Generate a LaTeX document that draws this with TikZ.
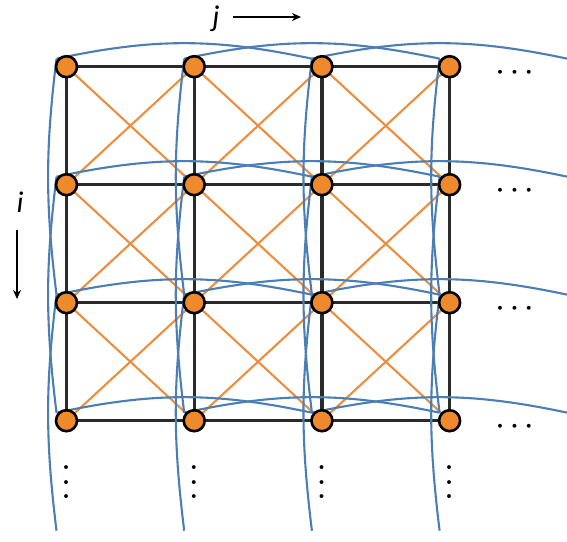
\documentclass[tikz,border=0pt]{standalone}
\usepackage{fontspec}
\setmainfont{Carlito}
\usetikzlibrary{arrows.meta}
\definecolor{nodeorange}{HTML}{EF8A2C}
\definecolor{lineorange}{HTML}{EE8D3E}
\definecolor{skipblue}{HTML}{4A7EB4}
\definecolor{gridblack}{HTML}{2A2A2A}
\pgfdeclarelayer{bg}
\pgfdeclarelayer{mid}
\pgfsetlayers{bg,mid,main}
\begin{document}
\begin{tikzpicture}[x=1pt,y=1pt,
  vertex/.style={circle, draw=black, line width=2.6pt, fill=nodeorange, minimum size=21pt, inner sep=0pt},
  gridline/.style={draw=gridblack, line width=3.4pt},
  diagline/.style={draw=lineorange, line width=2.1pt},
  skipline/.style={draw=skipblue, line width=2.1pt},
  ellip/.style={font=\boldmath\fontsize{50}{50}\selectfont, inner sep=0pt},
  axislabel/.style={font=\itshape\fontsize{30}{30}\selectfont, anchor=base, inner sep=0pt},
  axisarrow/.style={draw=black, line width=1.6pt, -{Stealth[length=9pt,width=8pt]}}
  ]
\useasboundingbox (0,0) rectangle (567,541);
% nodes
\foreach \r in {0,...,3}{
  \foreach \c in {0,...,3}{
    \node[vertex] (n-\r-\c) at ({66.5+127.7*\c},{474.3-118*\r}) {};
    \coordinate (q-\r-\c) at ([shift={(-10,8)}]n-\r-\c.center);
  }
}
% virtual skip anchors outside the picture
\foreach \r in {0,...,3}{
  \coordinate (q-\r-4) at ({66.5+127.7*4-10},{474.3-118*\r+8});
}
\foreach \c in {0,...,3}{
  \coordinate (q-4-\c) at ({66.5+127.7*\c-10},{474.3-118*4+8});
}
\begin{pgfonlayer}{bg}
  % orange diagonals
  \foreach \r in {0,1,2}{
    \foreach \c in {0,1,2}{
      \pgfmathtruncatemacro\rr{\r+1}
      \pgfmathtruncatemacro\cc{\c+1}
      \draw[diagline] (n-\r-\c.center) -- (n-\rr-\cc.center);
      \draw[diagline] (n-\r-\cc.center) -- (n-\rr-\c.center);
    }
  }
  % black grid
  \foreach \r in {0,...,3}{
    \foreach \c in {0,1,2}{
      \pgfmathtruncatemacro\cc{\c+1}
      \draw[gridline] (n-\r-\c.center) -- (n-\r-\cc.center);
      \draw[gridline] (n-\c-\r.center) -- (n-\cc-\r.center);
    }
  }
\end{pgfonlayer}
\begin{pgfonlayer}{mid}
  \begin{scope}
    \clip (0,0) rectangle (567,541);
    \foreach \r in {0,...,3}{
      \foreach \c in {0,1,2}{
        \pgfmathtruncatemacro\cc{\c+2}
        \draw[skipline] (q-\r-\c) to[bend left=12] (q-\r-\cc);
        \draw[skipline] (q-\c-\r) to[bend right=7] (q-\cc-\r);
      }
    }
  \end{scope}
\end{pgfonlayer}
% ellipses
\foreach \r in {0,...,3}{
  \node[ellip] (hd-\r) at (514.5,{474.3-118*\r-6}) {$\cdot\cdot\cdot$};
}
\foreach \c in {0,...,3}{
  \node[ellip, rotate=90] (vd-\c) at ({66.5+127.7*\c},59) {$\cdot\cdot\cdot$};
}
% axis labels
\node[axislabel] (jlab) at (216,514) {j};
\coordinate (ja) at (233,524);
\coordinate (jb) at (301,524);
\draw[axisarrow] (ja) -- (jb);
\node[axislabel] (ilab) at (20,328) {i};
\coordinate (ia) at (17,311);
\coordinate (ib) at (17,242);
\draw[axisarrow] (ia) -- (ib);
\end{tikzpicture}
\end{document}
